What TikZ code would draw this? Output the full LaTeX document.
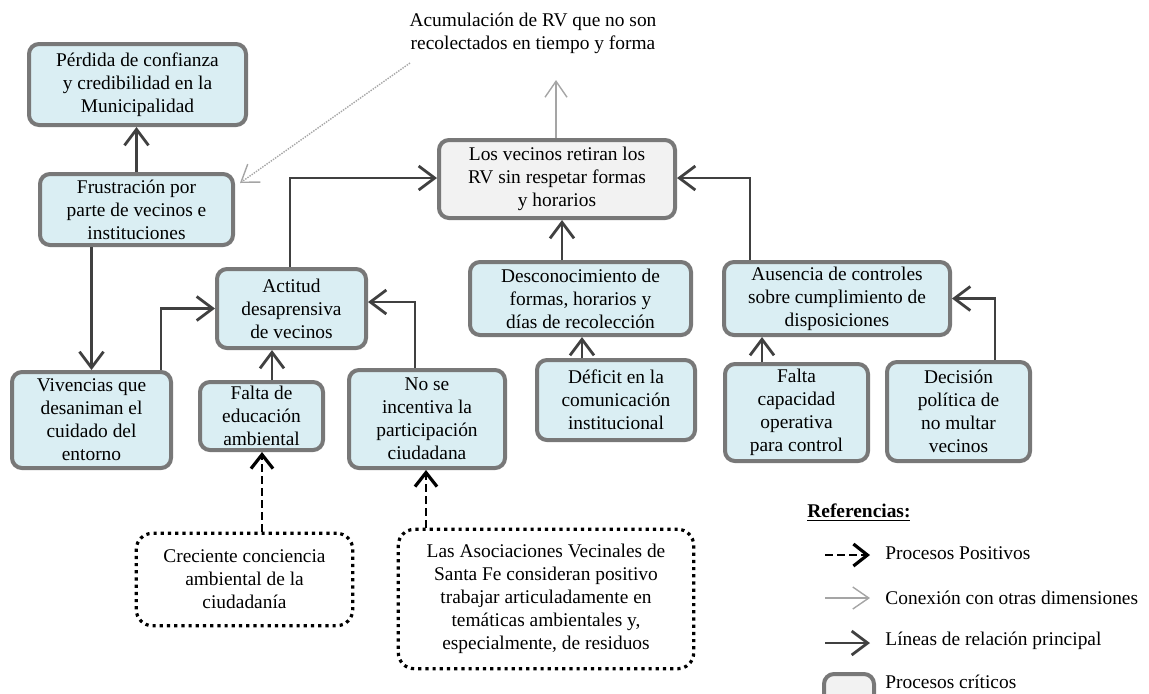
\documentclass[tikz,border=0pt]{standalone}
\usepackage{fontspec}
\setmainfont{Liberation Serif}
\usetikzlibrary{arrows.meta}
\definecolor{lblue}{RGB}{218,238,243}
\definecolor{critfill}{RGB}{242,242,242}
\definecolor{boxgray}{RGB}{120,120,120}
\definecolor{lineg}{RGB}{64,64,64}
\definecolor{linkgray}{RGB}{165,165,165}
\newcommand{\diagfont}{\fontsize{9.7pt}{11.5pt}\selectfont}
\tikzset{
  box/.style={draw=boxgray, line width=2pt, rounded corners=5pt, fill=lblue,
    align=center, inner sep=0pt, font=\diagfont},
  critbox/.style={box, fill=critfill},
  posbox/.style={draw=black, line width=1.6pt, dash pattern=on 1.6pt off 2pt,
    rounded corners=8pt, align=center, inner sep=0pt, font=\diagfont},
  mainlink/.style={draw=lineg, line width=1.4pt,
    -{Straight Barb[length=8pt,width=12pt]}},
  poslink/.style={draw=black, line width=1.4pt, dash pattern=on 4pt off 2pt,
    -{Straight Barb[length=7pt,width=11pt,line width=1.6pt]}},
  otherlink/.style={draw=linkgray, line width=0.7pt,
    -{Straight Barb[length=8pt,width=11pt]}},
  label/.style={font=\diagfont, inner sep=0pt}
}
\begin{document}
\begin{tikzpicture}[x=0.5pt,y=-0.5pt]
\useasboundingbox (0,0) rectangle (1149,693);

% problem tree nodes
\node[box, minimum width=108.5pt, minimum height=40.5pt] (perd) at (137.5,84.5)
  {Pérdida de confianza\\y credibilidad en la\\Municipalidad};
\node[box, minimum width=96.5pt, minimum height=35.5pt] (frus) at (136.5,209.5)
  {Frustración por\\parte de vecinos e\\instituciones};
\node[critbox, minimum width=118pt, minimum height=39pt] (retiran) at (557,179)
  {Los vecinos retiran los\\RV sin respetar formas\\y horarios};
\node[box, minimum width=74.5pt, minimum height=39.5pt] (actitud) at (291.5,308.5)
  {Actitud\\desaprensiva\\de vecinos};
\node[box, minimum width=79.5pt, minimum height=48pt] (viv) at (91.5,420)
  {Vivencias que\\desaniman el\\cuidado del\\entorno};
\node[box, minimum width=61.5pt, minimum height=34pt] (falta) at (261.5,416)
  {Falta de\\educación\\ambiental};
\node[box, minimum width=78pt, minimum height=49pt] (nose) at (427,419)
  {No se\\incentiva la\\participación\\ciudadana};
\node[box, minimum width=110.5pt, minimum height=36.5pt] (desc) at (580.5,298.5)
  {Desconocimiento de\\formas, horarios y\\días de recolección};
\node[box, minimum width=79pt, minimum height=40pt] (defic) at (616,400)
  {Déficit en la\\comunicación\\institucional};
\node[box, minimum width=113pt, minimum height=36.5pt] (aus) at (837,298.5)
  {Ausencia de controles\\sobre cumplimiento de\\disposiciones};
\node[box, minimum width=71.5pt, minimum height=48.5pt] (cap) at (796.5,412.5)
  {Falta\\capacidad\\operativa\\para control};
\node[box, minimum width=71.5pt, minimum height=49.5pt] (dec) at (958.5,411.5)
  {Decisión\\política de\\no multar\\vecinos};

% positive processes
\node[posbox, minimum width=108.2pt, minimum height=46.2pt] (crec) at (244.5,579.5)
  {Creciente conciencia\\ambiental de la\\ciudadanía};
\node[posbox, minimum width=147.7pt, minimum height=69.7pt] (asoc) at (546,599)
  {Las Asociaciones Vecinales de\\Santa Fe consideran positivo\\trabajar articuladamente en\\temáticas ambientales y,\\especialmente, de residuos};

% link to another dimension
\node[label, align=center] (acum) at (533,33)
  {Acumulación de RV que no son\\recolectados en tiempo y forma};
\coordinate (acumtip) at (556,80);
\coordinate (acumfrom) at (410,63);

% main relations
\draw[mainlink] (frus.north) -- (frus.north |- perd.south);
\draw[mainlink] (viv.north |- frus.south) -- (viv.north);
\draw[mainlink] ([xshift=34.75pt]viv.north) |- (actitud.west);
\draw[mainlink] ([xshift=5.25pt]falta.north) -- ([xshift=5.25pt]falta.north |- actitud.south);
\draw[mainlink] ([xshift=-6pt]nose.north) |- ([yshift=3.25pt]actitud.east);
\draw[mainlink] ([xshift=-0.75pt]actitud.north) |- ([yshift=0.5pt]retiran.west);
\draw[mainlink] ([xshift=-9.25pt]desc.north) -- ([xshift=-9.25pt]desc.north |- retiran.south);
\draw[mainlink] ([xshift=-17pt]defic.north) -- ([xshift=-17pt]defic.north |- desc.south);
\draw[mainlink] ([xshift=-43.5pt]aus.north) |- ([yshift=0.5pt]retiran.east);
\draw[mainlink] ([xshift=-17.25pt]cap.north) -- ([xshift=-17.25pt]cap.north |- aus.south);
\draw[mainlink] ([xshift=18.25pt]dec.north) |- (aus.east);

% positive processes
\draw[poslink] ([xshift=8.75pt]crec.north) -- ([xshift=8.75pt]crec.north |- falta.south);
\draw[poslink] ([xshift=-60pt]asoc.north) -- ([xshift=-60pt]asoc.north |- nose.south);

% connections with other dimensions
\draw[otherlink] ([xshift=-0.5pt]retiran.north) -- (acumtip);
\draw[otherlink, dash pattern=on 0.7pt off 0.6pt] (acumfrom) -- ([xshift=2.5pt,yshift=-5.5pt]frus.north east);

% legend
\node[label, anchor=west, font=\diagfont\bfseries] (reftitle) at (807,513) {\underline{Referencias:}};
\coordinate (l1a) at (825,555); \coordinate (l1b) at (870,555);
\coordinate (l2a) at (825,598); \coordinate (l2b) at (870,598);
\coordinate (l3a) at (825,643); \coordinate (l3b) at (870,643);
\draw[poslink] (l1a) -- (l1b);
\draw[otherlink] (l2a) -- (l2b);
\draw[mainlink] (l3a) -- (l3b);
\draw[draw=boxgray, line width=2pt, rounded corners=5pt, fill=critfill] (824,674) rectangle (874,712);
\node[label, anchor=west] (lt1) at (885,553) {Procesos Positivos};
\node[label, anchor=west] (lt2) at (885,598) {Conexión con otras dimensiones};
\node[label, anchor=west] (lt3) at (885,641) {Líneas de relación principal};
\node[label, anchor=west] (lt4) at (885,682) {Procesos críticos};
\end{tikzpicture}
\end{document}
